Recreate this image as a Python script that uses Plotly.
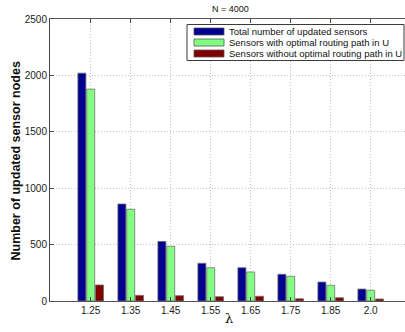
import plotly.graph_objects as go

# Data: number of updated sensor nodes vs. lambda (N = 4000)
lambdas = ["1.25", "1.35", "1.45", "1.55", "1.65", "1.75", "1.85", "2.0"]
total_updated = [2020, 860, 528, 334, 295, 237, 168, 106]
with_optimal = [1878, 813, 485, 295, 257, 219, 139, 95]
without_optimal = [142, 50, 47, 38, 42, 20, 29, 18]

series_names = [
    "Total number of updated sensors",
    "Sensors with optimal routing path in U",
    "Sensors without optimal routing path in U",
]
series_colors = ["#000090", "#80FF80", "#800000"]
y_ticks = [0, 500, 1000, 1500, 2000, 2500]

W, H = 405, 332
ML, MR, MT, MB = 50, 0, 19, 31
PW, PH = W - ML - MR, H - MT - MB

positions = list(range(len(lambdas)))

fig = go.Figure()
for name, vals, col in zip(series_names, [total_updated, with_optimal, without_optimal], series_colors):
    fig.add_trace(go.Bar(
        x=positions, y=vals, name=name,
        marker=dict(color=col, line=dict(color="#6e6e6e", width=0.8)),
        showlegend=False,
    ))


def px_x(p):
    return (p - ML) / PW


def px_y(p):
    return (H - MB - p) / PH


# Hand-built legend box with wide colour swatches
shapes = [dict(type="rect", xref="paper", yref="paper",
               x0=px_x(187), x1=px_x(404), y0=px_y(60.5), y1=px_y(24.5),
               line=dict(color="#3a3a3a", width=1), fillcolor="white", layer="above")]
annotations = []
row_y = [31.5, 42.5, 53.5]
for name, col, ry in zip(series_names, series_colors, row_y):
    shapes.append(dict(type="rect", xref="paper", yref="paper",
                       x0=px_x(194), x1=px_x(224), y0=px_y(ry + 3.5), y1=px_y(ry - 3.5),
                       line=dict(color="#555", width=0.8), fillcolor=col, layer="above"))
    annotations.append(dict(x=px_x(226.5), y=px_y(ry), xref="paper", yref="paper",
                            text=name, showarrow=False, xanchor="left", yanchor="middle",
                            font=dict(size=9.5, color="#111", family="Liberation Sans, Arial")))

annotations.append(dict(x=px_x(230), y=px_y(9), xref="paper", yref="paper",
                        text="N = 4000", showarrow=False, xanchor="center", yanchor="middle",
                        font=dict(size=9, color="#111", family="Liberation Sans, Arial")))
annotations.append(dict(x=px_x(15.5), y=px_y(161), xref="paper", yref="paper",
                        text="<b>Number of updated sensor nodes</b>", textangle=-90,
                        showarrow=False, xanchor="center", yanchor="middle",
                        font=dict(size=12.5, color="#111", family="Liberation Sans, Arial")))
annotations.append(dict(x=px_x(229), y=px_y(318), xref="paper", yref="paper",
                        text="λ", showarrow=False, xanchor="center", yanchor="middle",
                        font=dict(size=13, color="#111", family="DejaVu Serif")))

fig.update_layout(
    width=W, height=H,
    margin=dict(l=ML, r=MR, t=MT, b=MB, pad=0),
    paper_bgcolor="white", plot_bgcolor="white",
    barmode="group", bargap=0.34, bargroupgap=0.09,
    font=dict(family="Liberation Sans, Arial", size=10, color="#222"),
    shapes=shapes, annotations=annotations,
)
fig.update_xaxes(
    range=[-1.0175, 7.8575],
    tickmode="array", tickvals=positions, ticktext=lambdas,
    ticks="inside", ticklen=4, tickcolor="#444",
    showline=True, linecolor="#555", linewidth=1, mirror="ticks",
    showgrid=True, gridcolor="#c4c4c4", griddash="1px,2px", gridwidth=1,
    zeroline=False, tickfont=dict(size=10, color="#222"),
)
fig.update_yaxes(
    range=[0, 2500],
    tickmode="array", tickvals=y_ticks,
    ticks="inside", ticklen=4, tickcolor="#444",
    showline=True, linecolor="#444", linewidth=1,
    showgrid=True, gridcolor="#c4c4c4", griddash="1px,2px", gridwidth=1,
    zeroline=False, tickfont=dict(size=10, color="#222"),
)

fig.write_html("out.html")
